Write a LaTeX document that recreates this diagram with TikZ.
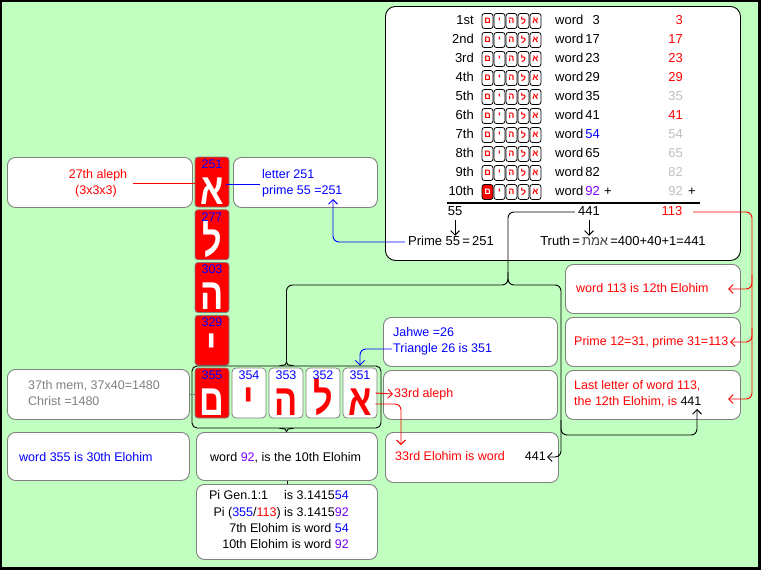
\documentclass[tikz,border=0pt]{standalone}
\usepackage{fontspec}
\setmainfont{Liberation Sans}
\newfontfamily\heb[Script=Hebrew]{Liberation Sans}
\TeXXeTstate=1
\usetikzlibrary{arrows.meta}
\definecolor{bg}{RGB}{192,255,192}
\definecolor{bx}{RGB}{128,128,128}
\definecolor{lg}{RGB}{192,192,192}
\definecolor{pu}{RGB}{128,0,255}
\newcommand\bigheb[1]{\scalebox{0.78}[1]{#1}}
\begin{document}
\begin{tikzpicture}[x=1pt,y=-1pt,
  every node/.style={inner sep=0pt},
  bt/.style={font=\fontsize{12.5}{14}\selectfont, text height=9pt, text depth=2.6pt},
  tt/.style={font=\fontsize{13}{15}\selectfont, text height=9.4pt, text depth=2.7pt},
  box/.style={draw=bx, fill=white, rounded corners=8pt, line width=0.9pt, anchor=north west},
  stile/.style={draw=black, fill=white, rounded corners=2.5pt, minimum width=11pt, minimum height=15pt, text=red, font=\heb\bfseries\fontsize{9}{9}\selectfont, line width=0.8pt},
  stile10-1/.style={fill=red, text=white},
  rtile/.style={draw=bx, fill=red, rounded corners=3pt, minimum width=34pt, minimum height=50pt, line width=0.8pt},
  wtile/.style={draw=bx, fill=white, rounded corners=4pt, minimum width=34pt, minimum height=50pt, line width=0.8pt},
  bigL/.style={font=\heb\bfseries\fontsize{44}{44}\selectfont, anchor=base},
  num/.style={font=\fontsize{12.5}{14}\selectfont, text=blue, text height=9pt, text depth=0.5pt},
  arr/.style={-{Straight Barb[length=4.5pt,width=9pt]}},
  conn/.style={line width=0.9pt, rounded corners=6pt},
]
\useasboundingbox (0,0) rectangle (761,570);
\fill[black] (0,0) rectangle (761,570);
\fill[bg] (2,2) rectangle (758,567);

% ---------- big table box ----------
\node[draw=black, fill=white, rounded corners=10pt, line width=0.9pt, anchor=north west, minimum width=355pt, minimum height=254pt] (tab) at (385,6) {};
\foreach \r/\o/\n/\nc/\mc in {1/1st/3/black/red, 2/2nd/17/black/red, 3/3rd/23/black/red, 4/4th/29/black/red, 5/5th/35/black/lg, 6/6th/41/black/red, 7/7th/54/blue/lg, 8/8th/65/black/lg, 9/9th/82/black/lg, 10/10th/92/pu/lg} {
  \pgfmathsetmacro\yy{21+19*(\r-1)}
  \node[tt, anchor=east] (ord\r) at (474,\yy) {\o};
  \foreach \c/\L in {1/^^^^05dd,2/^^^^05d9,3/^^^^05d4,4/^^^^05dc,5/^^^^05d0} {
    \node[stile, stile\r-\c/.try] (s\r-\c) at ({475.5+12*\c},\yy) {\L};
  }
  \node[tt, anchor=west] (w\r) at (555,\yy) {word};
  \node[tt, anchor=east, text=\nc] (n\r) at (600,\yy) {\n};
  \node[tt, anchor=east, text=\mc] (m\r) at (683,\yy) {\n};
}
\node[tt, anchor=west] (plusA) at (604,192) {+};
\node[tt, anchor=west] (plusB) at (688,192) {+};
\draw[line width=2pt] (447,203) -- (700,203);
\node[tt] (n55) at (455,212) {55};
\node[tt] (n441) at (589,212) {441};
\node[tt, text=red] (n113) at (672,212) {113};
\node[tt] (prime) at (451,242) {Prime 55\,=\,251};
\node[tt] (truth) at (623,242) {Truth\,=\,\textcolor{darkgray}{\heb\beginR ^^^^05d0^^^^05de^^^^05ea\endR}\,=400+40+1=441};
\draw[arr, line width=0.9pt] ([yshift=-2pt]n55.south) -- (n55.south |- prime.north);
\draw[arr, line width=0.9pt] ([yshift=-2pt]n441.south) -- (n441.south |- truth.north);

% ---------- boxes ----------
\node[box, minimum width=185pt, minimum height=50pt] (b27) at (7,157) {};
\node[box, minimum width=144pt, minimum height=50pt] (bLet) at (233,157) {};
\node[box, minimum width=182pt, minimum height=50pt] (b37) at (7,369) {};
\node[box, minimum width=182pt, minimum height=48pt] (b355) at (7,432) {};
\node[box, minimum width=181pt, minimum height=48pt] (b92) at (196,432) {};
\node[box, minimum width=181pt, minimum height=75pt] (bPi) at (196,484) {};
\node[box, minimum width=174pt, minimum height=49pt] (bJ) at (383,317) {};
\node[box, minimum width=174pt, minimum height=49pt] (b33a) at (383,370) {};
\node[box, minimum width=173pt, minimum height=50pt] (b33E) at (385,432) {};
\node[box, minimum width=175pt, minimum height=49pt] (b113) at (565,264) {};
\node[box, minimum width=175pt, minimum height=49pt] (bP12) at (565,317) {};
\node[box, minimum width=175pt, minimum height=49pt] (bLast) at (565,370) {};

% texts
\node[bt, text=red] (t27a) at (98,175) {27th aleph};
\node[bt, text=red] (t27b) at (96,191) {(3x3x3)};
\node[bt, text=blue, anchor=west] (tLa) at (262,175) {letter 251};
\node[bt, text=blue, anchor=west] (tLb) at (262,191) {prime 55 =251};
\node[bt, text=bx, anchor=west] (t37a) at (28,386) {37th mem, 37x40=1480};
\node[bt, text=bx, anchor=west] (t37b) at (28,402) {Christ =1480};
\node[bt, text=blue, anchor=west] (t355) at (19,458) {word 355 is 30th Elohim};
\node[bt, anchor=west] (t92) at (210,458) {word \textcolor{pu}{92}, is the 10th Elohim};
\node[bt, anchor=east] (pi1) at (349,496) {Pi Gen.1:1\quad\ is 3.1415\textcolor{blue}{54}};
\node[bt, anchor=east] (pi2) at (349,513) {Pi (\textcolor{blue}{355}/\textcolor{red}{113}) is 3.1415\textcolor{pu}{92}};
\node[bt, anchor=east] (pi3) at (349,529) {7th Elohim is word \textcolor{blue}{54}};
\node[bt, anchor=east] (pi4) at (349,545) {10th Elohim is word \textcolor{pu}{92}};
\node[bt, text=blue, anchor=west] (j1) at (393,333) {Jahwe =26};
\node[bt, text=blue, anchor=west] (j2) at (393,349) {Triangle 26 is 351};
\node[bt, text=red, anchor=west] (a33) at (394,394) {33rd aleph};
\node[bt, text=red, anchor=west] (e33) at (395,457) {33rd Elohim is word};
\node[bt, anchor=east] (e441) at (546,457) {441};
\node[bt, text=red, anchor=west] (w113) at (576,289) {word 113 is 12th Elohim};
\node[bt, text=red, anchor=west] (p12) at (574,342) {Prime 12=31, prime 31=113};
\node[bt, text=red, anchor=west] (la1) at (574,386) {Last letter of word 113,};
\node[bt, text=red, anchor=west] (la2) at (574,402) {the 12th Elohim, is \textcolor{black}{441}};
\coordinate (la441) at (697,409);

% ---------- letter tiles ----------
\node[rtile] (vA) at (212,182) {};
\node[rtile] (vL) at (212,234.75) {};
\node[rtile] (vH) at (212,287.5) {};
\node[rtile] (vY) at (212,340.25) {};
\node[draw=black, rounded corners=5pt, line width=0.9pt, minimum width=189pt, minimum height=62pt] (grp) at (286.5,397) {};
\node[rtile] (hM) at (212,393) {};
\node[wtile] (hY) at (249,393) {};
\node[wtile] (hH) at (286,393) {};
\node[wtile] (hL) at (323,393) {};
\node[wtile] (hA) at (360,393) {};

\node[bigL, text=white] (lvA) at ([yshift=3pt]vA.south) {\bigheb{^^^^05d0}};
\node[bigL, text=white] (lvL) at ([yshift=4pt]vL.south) {\bigheb{^^^^05dc}};
\node[bigL, text=white] (lvH) at ([yshift=3pt]vH.south) {\bigheb{^^^^05d4}};
\node[bigL, text=white] (lvY) at ([yshift=5pt]vY.south) {\bigheb{^^^^05d9}};
\node[bigL, text=white] (lhM) at ([yshift=3pt]hM.south) {\bigheb{^^^^05dd}};
\node[bigL, text=red] (lhY) at ([yshift=4pt]hY.south) {\bigheb{^^^^05d9}};
\node[bigL, text=red] (lhH) at ([yshift=3pt]hH.south) {\bigheb{^^^^05d4}};
\node[bigL, text=red] (lhL) at ([yshift=4pt]hL.south) {\bigheb{^^^^05dc}};
\node[bigL, text=red] (lhA) at ([yshift=3pt]hA.south) {\bigheb{^^^^05d0}};

\node[num] (nvA) at ([yshift=-7.5pt]vA.north) {251};
\node[num] (nvL) at ([yshift=-7.5pt]vL.north) {277};
\node[num] (nvH) at ([yshift=-7.5pt]vH.north) {303};
\node[num] (nvY) at ([yshift=-7.5pt]vY.north) {329};
\node[num] (nhM) at ([yshift=-8pt]hM.north) {355};
\node[num] (nhY) at ([yshift=-8pt]hY.north) {354};
\node[num] (nhH) at ([yshift=-8pt]hH.north) {353};
\node[num] (nhL) at ([yshift=-8pt]hL.north) {352};
\node[num] (nhA) at ([yshift=-8pt]hA.north) {351};

% brace cusps of the group
\draw[line width=0.9pt] ([xshift=-7pt]grp.north) .. controls ([xshift=-1pt]grp.north) and ([yshift=1pt]grp.north) .. ([yshift=5pt]grp.north);
\draw[line width=0.9pt] ([xshift=7pt]grp.north) .. controls ([xshift=1pt]grp.north) and ([yshift=1pt]grp.north) .. ([yshift=5pt]grp.north);
\draw[line width=0.9pt] ([xshift=-7pt]grp.south) .. controls ([xshift=-1pt]grp.south) and ([yshift=-1pt]grp.south) .. (grp.south |- b92.north);
\draw[line width=0.9pt] ([xshift=7pt]grp.south) .. controls ([xshift=1pt]grp.south) and ([yshift=-1pt]grp.south) .. (grp.south |- b92.north);
\draw[line width=0.9pt] (b92.south) -- (bPi.north);

% ---------- connectors ----------
\coordinate (c27) at (133,183);
\draw[red, line width=0.9pt] (c27) -- (c27 -| vA.west);
\coordinate (cA1) at (226,184);
\coordinate (cA2) at (260,184);
\draw[blue, line width=0.9pt] (cA1) -- (cA2);
\coordinate (c251) at (333,199);
\draw[conn, blue, arr] ([xshift=-3pt]prime.west) -| (c251);
\draw[bx, line width=0.9pt] (b37.east) -- (b37.east -| hM.west);

\draw[conn, blue, arr] ([xshift=-1pt]j2.west) -| ([yshift=2pt]hA.north);
\draw[red, arr, line width=0.9pt] ([xshift=-2pt]hA.east) -- ([xshift=-1pt]a33.west);
\coordinate (c445) at (401,445);
\draw[conn, red, arr] ([xshift=-2pt,yshift=-11pt]hA.east) -| (c445);

\coordinate (j) at (508,285);
\draw[conn] ([xshift=-3pt]n441.west) -| (j) -| ([yshift=5pt]grp.north);
\draw[conn, arr] (508,272) -- (j) -- (561,285) -- (561,457) -- ([xshift=1pt]e441.east);
\draw[conn, arr] (561,420) -- (561,435) -- (la441 |- 561,435) -- (la441);

\coordinate (r0) at (693,212);
\coordinate (r1) at (728,289);
\coordinate (r2) at (730,342);
\coordinate (r3) at (728,399);
\draw[conn, red, arr] (r0) -- (752,212) -- (752,399) -- (r3);
\draw[conn, red, arr] (752,275) -- (752,289) -- (r1);
\draw[conn, red, arr] (752,328) -- (752,342) -- (r2);
\end{tikzpicture}
\end{document}
